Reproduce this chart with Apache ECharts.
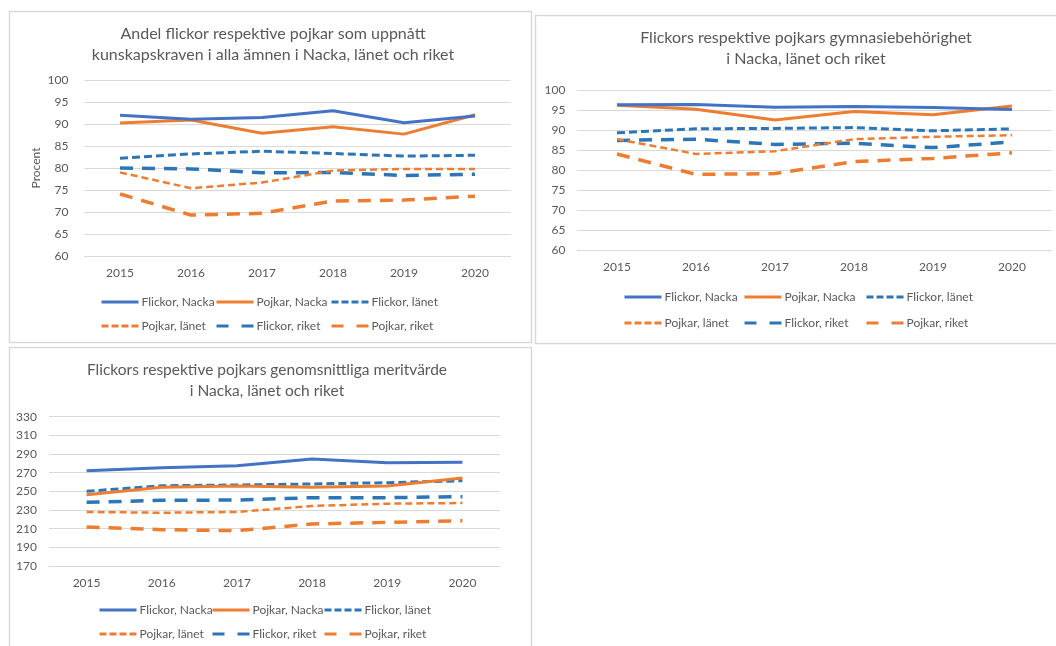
<!DOCTYPE html>
<html><head><meta charset="utf-8">
<script src="https://cdn.jsdelivr.net/npm/echarts@6/dist/echarts.min.js"></script>
<style>html,body{margin:0;padding:0;background:#fff;} #c{width:1056px;height:646px;}</style>
</head><body><div id="c"></div>
<script>
const years = ['2015', '2016', '2017', '2018', '2019', '2020'];
const seriesNames = ['Flickor, Nacka', 'Pojkar, Nacka', 'Flickor, länet', 'Pojkar, länet', 'Flickor, riket', 'Pojkar, riket'];

const chartTitles = [
  'Andel flickor respektive pojkar som uppnått\nkunskapskraven i alla ämnen i Nacka, länet och riket',
  'Flickors respektive pojkars gymnasiebehörighet\ni Nacka, länet och riket',
  'Flickors respektive pojkars genomsnittliga meritvärde\ni Nacka, länet och riket'
];

// Chart 1: kunskapskraven (procent)
const kravFlickorNacka = [92.0, 91.1, 91.5, 93.0, 90.3, 91.8];
const kravPojkarNacka  = [90.2, 90.9, 87.9, 89.4, 87.7, 92.1];
const kravFlickorLanet = [82.2, 83.2, 83.8, 83.3, 82.7, 82.9];
const kravPojkarLanet  = [79.0, 75.4, 76.7, 79.4, 79.8, 79.8];
const kravFlickorRiket = [80.0, 79.8, 78.9, 79.0, 78.3, 78.6];
const kravPojkarRiket  = [74.1, 69.3, 69.7, 72.5, 72.7, 73.6];

// Chart 2: gymnasiebehörighet (procent)
const behFlickorNacka = [96.3, 96.4, 95.7, 95.9, 95.6, 95.1];
const behPojkarNacka  = [96.2, 95.2, 92.5, 94.6, 93.8, 96.0];
const behFlickorLanet = [89.3, 90.3, 90.4, 90.6, 89.8, 90.3];
const behPojkarLanet  = [87.7, 84.0, 84.7, 87.7, 88.3, 88.7];
const behFlickorRiket = [87.4, 87.7, 86.4, 86.7, 85.6, 87.0];
const behPojkarRiket  = [84.0, 78.9, 79.1, 82.1, 82.9, 84.3];

// Chart 3: genomsnittligt meritvärde
const meritFlickorNacka = [272.1, 275.4, 277.5, 284.6, 280.7, 281.1];
const meritPojkarNacka  = [246.4, 254.3, 255.7, 254.3, 255.7, 264.3];
const meritFlickorLanet = [250.0, 256.0, 256.8, 257.9, 259.3, 261.4];
const meritPojkarLanet  = [227.9, 227.1, 227.9, 234.3, 236.8, 237.5];
const meritFlickorRiket = [238.2, 240.4, 240.7, 243.2, 243.2, 244.3];
const meritPojkarRiket  = [211.8, 208.9, 207.9, 215.0, 216.8, 218.6];

const chartData = [
  [kravFlickorNacka, kravPojkarNacka, kravFlickorLanet, kravPojkarLanet, kravFlickorRiket, kravPojkarRiket],
  [behFlickorNacka, behPojkarNacka, behFlickorLanet, behPojkarLanet, behFlickorRiket, behPojkarRiket],
  [meritFlickorNacka, meritPojkarNacka, meritFlickorLanet, meritPojkarLanet, meritFlickorRiket, meritPojkarRiket]
];

// Y axis settings
const yRanges = [
  {min: 60, max: 100, interval: 5},
  {min: 60, max: 100, interval: 5},
  {min: 170, max: 330, interval: 20}
];

// ---- Styles & layout ----
const FONT = 'Lato, "Noto Sans", sans-serif';
const TXT = '#595959';
const BLUE = '#4472C4', DBLUE = '#2E75B6', ORANGE = '#ED7D31';
const lineStyles = [
  {color: BLUE, width: 3, type: 'solid'},
  {color: ORANGE, width: 3, type: 'solid'},
  {color: DBLUE, width: 3, type: [8, 4]},
  {color: ORANGE, width: 2.5, type: [7, 4]},
  {color: DBLUE, width: 3.5, type: [13, 9]},
  {color: ORANGE, width: 3.5, type: [13, 9]}
];
const legendDash = ['solid', 'solid', [7, 3], [7, 3], [12, 13], [12, 13]];
const grids = [
  {left: 84.5, top: 80, width: 426, height: 176},
  {left: 577.5, top: 90, width: 474, height: 160},
  {left: 49, top: 416.7, width: 451, height: 149.3}
];
const titlePos = [
  {x: 268, y: 18},
  {x: 801, y: 22},
  {x: 262, y: 354}
];
const titleSize = [16, 16, 15.5];
const yLabelMargin = [16, 12, 12];
const legendCols = [[100, 215, 330], [623, 743, 865], [98, 211, 323]];
const legendRows = [[303, 327], [298, 324], [611, 635]];
const panels = [
  {x: 9.5, y: 11.5, width: 522, height: 331},
  {x: 535.5, y: 15.5, width: 530, height: 328},
  {x: 9.5, y: 347.5, width: 522, height: 310}
];

const option = {
  animation: false,
  backgroundColor: '#fff',
  textStyle: {fontFamily: FONT},
  graphic: panels.map(p => ({
    type: 'rect', shape: p, silent: true,
    style: {fill: 'none', stroke: '#d9d9d9', lineWidth: 1.5}
  })),
  title: chartTitles.map((t, i) => ({
    text: t, left: titlePos[i].x, top: titlePos[i].y, textAlign: 'center',
    textStyle: {fontFamily: FONT, fontSize: titleSize[i], fontWeight: 'normal', color: TXT, lineHeight: 21}
  })),
  grid: grids.map(g => Object.assign({containLabel: false}, g)),
  xAxis: grids.map((g, i) => ({
    type: 'category', gridIndex: i, data: years, boundaryGap: true,
    axisLine: {show: true, lineStyle: {color: '#d9d9d9', width: 1}},
    axisTick: {show: false},
    axisLabel: {color: TXT, fontSize: 12, fontFamily: FONT, margin: 11}
  })),
  yAxis: yRanges.map((r, i) => ({
    type: 'value', gridIndex: i, min: r.min, max: r.max, interval: r.interval,
    name: i === 0 ? 'Procent' : '', nameLocation: 'middle', nameGap: 42, nameRotate: 90,
    nameTextStyle: {color: TXT, fontSize: 12, fontFamily: FONT},
    axisLine: {show: false}, axisTick: {show: false},
    axisLabel: {color: TXT, fontSize: 12, fontFamily: FONT, margin: yLabelMargin[i]},
    splitLine: {show: true, lineStyle: {color: '#d9d9d9', width: 1}}
  })),
  legend: [],
  series: []
};

chartData.forEach((set, ci) => {
  set.forEach((vals, si) => {
    option.series.push({
      type: 'line', name: seriesNames[si], xAxisIndex: ci, yAxisIndex: ci,
      data: vals, symbol: 'none', showSymbol: false, smooth: false,
      lineStyle: lineStyles[si], itemStyle: {color: lineStyles[si].color},
      z: 10 - si
    });
  });
  seriesNames.forEach((n, si) => {
    option.legend.push({
      data: [n], left: legendCols[ci][si % 3], top: legendRows[ci][Math.floor(si / 3)] - 7,
      padding: 0, itemWidth: 37, itemHeight: 14, itemGap: 0, selectedMode: false,
      itemStyle: {opacity: 0, color: 'rgba(0,0,0,0)', borderWidth: 0},
      lineStyle: {width: 3, type: legendDash[si], color: lineStyles[si].color},
      textStyle: {color: TXT, fontSize: 12, fontFamily: FONT, padding: [0, 0, 0, -2]}
    });
  });
});

const chart = echarts.init(document.getElementById('c'), null, {renderer: 'canvas'});
chart.setOption(option);
</script>
</body></html>
